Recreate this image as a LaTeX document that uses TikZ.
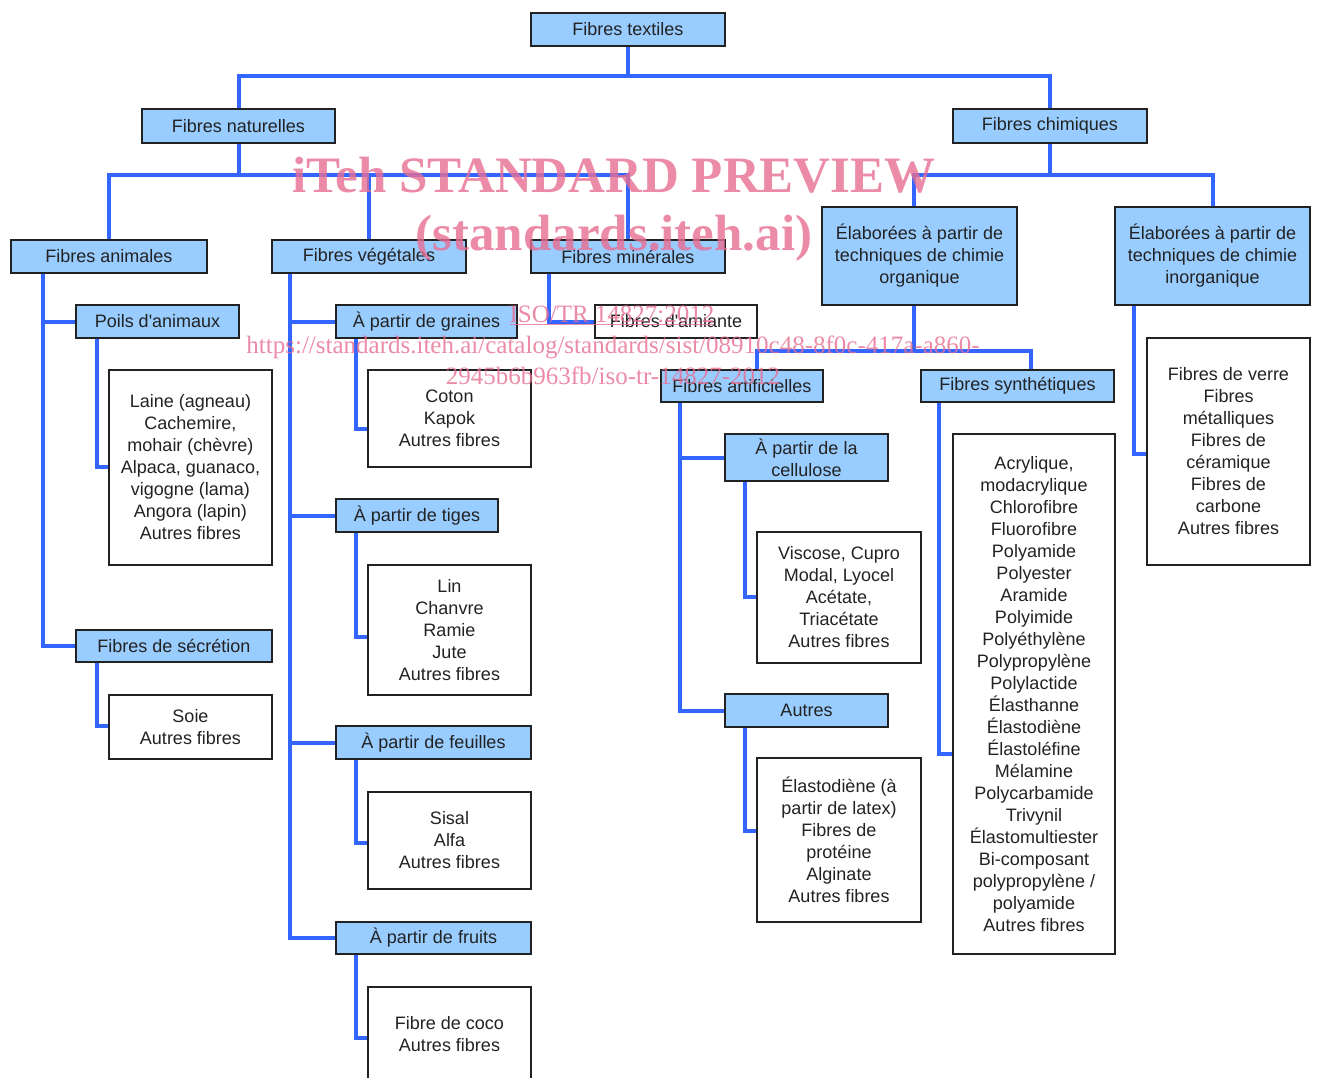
\documentclass[tikz,border=0pt]{standalone}
\usepackage{fontspec}
\setmainfont{Liberation Sans}
\newfontfamily\wmfont{Liberation Serif}
\definecolor{boxfill}{RGB}{153,204,255}
\definecolor{boxline}{RGB}{34,34,34}
\definecolor{connblue}{RGB}{51,102,255}
\definecolor{txt}{RGB}{34,34,34}
\definecolor{wmpink}{RGB}{232,110,145}
\tikzset{
  basebox/.style={draw=boxline, line width=1.5pt, inner sep=0pt, align=center,
    text=txt, font=\fontsize{18}{22}\selectfont},
  bluebox/.style={basebox, fill=boxfill},
  whitebox/.style={basebox, fill=white},
  conn/.style={draw=connblue, line width=4pt},
  wm/.style={text=wmpink, opacity=0.8, anchor=base, inner sep=0pt},
  bw/.style 2 args={minimum width=#1pt, minimum height=#2pt}
}
\begin{document}
\begin{tikzpicture}[x=1pt,y=-1pt]
\useasboundingbox[fill=white] (0,0) rectangle (1317,1077);

% blue boxes
\node[bluebox, bw={194}{33}] (tex) at (628,29.5) {Fibres textiles};
\node[bluebox, bw={193}{34}] (nat) at (238.5,126) {Fibres naturelles};
\node[bluebox, bw={194}{34}] (chim) at (1050,126) {Fibres chimiques};
\node[bluebox, bw={196}{33}] (ani) at (109,256.5) {Fibres animales};
\node[bluebox, bw={194}{33}] (veg) at (369,256.5) {Fibres végétales};
\node[bluebox, bw={194}{33}] (min) at (628,256.5) {Fibres minérales};
\node[bluebox, bw={195}{98}] (org) at (919.5,256) {Élaborées à partir de\\techniques de chimie\\organique};
\node[bluebox, bw={195}{98}] (inorg) at (1212.5,256) {Élaborées à partir de\\techniques de chimie\\inorganique};
\node[bluebox, bw={163}{33}] (poils) at (157.5,321.5) {Poils d\textquotesingle animaux};
\node[bluebox, bw={196}{32}] (sec) at (174,646) {Fibres de sécrétion};
\node[bluebox, bw={181}{33}] (gra) at (426.5,321.5) {À partir de graines};
\node[bluebox, bw={162}{33}] (tig) at (417,515.5) {À partir de tiges};
\node[bluebox, bw={195}{33}] (feu) at (433.5,742.5) {À partir de feuilles};
\node[bluebox, bw={195}{32}] (fru) at (433.5,938) {À partir de fruits};
\node[whitebox, bw={162}{33}] (ami) at (676,321.5) {Fibres d\textquotesingle amiante};
\node[bluebox, bw={162}{32}] (art) at (742,386) {Fibres artificielles};
\node[bluebox, bw={193}{32}] (syn) at (1017.5,386) {Fibres synthétiques};
\node[bluebox, bw={163}{47}] (cel) at (806.5,457.5) {À partir de la\\cellulose};
\node[bluebox, bw={163}{33}] (aut) at (806.5,710.5) {Autres};

% white boxes
\node[whitebox, bw={163}{195}] (laine) at (190.5,467.5) {Laine (agneau)\\Cachemire,\\mohair (chèvre)\\Alpaca, guanaco,\\vigogne (lama)\\Angora (lapin)\\Autres fibres};
\node[whitebox, bw={163}{64}] (soie) at (190.5,727) {Soie\\Autres fibres};
\node[whitebox, bw={163}{97}] (coton) at (449.5,418.5) {Coton\\Kapok\\Autres fibres};
\node[whitebox, bw={163}{130}] (lin) at (449.5,630) {Lin\\Chanvre\\Ramie\\Jute\\Autres fibres};
\node[whitebox, bw={163}{97}] (sisal) at (449.5,840.5) {Sisal\\Alfa\\Autres fibres};
\node[whitebox, bw={163}{94}] (coco) at (449.5,1034) {Fibre de coco\\Autres fibres};
\node[whitebox, bw={164}{131}] (visc) at (839,597.5) {Viscose, Cupro\\Modal, Lyocel\\Acétate,\\Triacétate\\Autres fibres};
\node[whitebox, bw={164}{164}] (elas) at (839,840) {Élastodiène (à\\partir de latex)\\Fibres de\\protéine\\Alginate\\Autres fibres};
\node[whitebox, bw={162}{520}] (acr) at (1034,694) {Acrylique,\\modacrylique\\Chlorofibre\\Fluorofibre\\Polyamide\\Polyester\\Aramide\\Polyimide\\Polyéthylène\\Polypropylène\\Polylactide\\Élasthanne\\Élastodiène\\Élastoléfine\\Mélamine\\Polycarbamide\\Trivynil\\Élastomultiester\\Bi-composant\\polypropylène /\\polyamide\\Autres fibres};
\node[whitebox, bw={163}{227}] (verre) at (1228.5,451.5) {Fibres de verre\\Fibres\\métalliques\\Fibres de\\céramique\\Fibres de\\carbone\\Autres fibres};

% junction coordinates
\coordinate (j0) at (628,76);
\coordinate (j1) at (239,175);
\coordinate (j2) at (914,175);
\coordinate (j3) at (914,351);
\coordinate (xart) at (757,0);
\coordinate (xsyn) at (1031,0);
\coordinate (ea) at (43,0);
\coordinate (ep) at (97,467);
\coordinate (es) at (97,726);
\coordinate (ev) at (290,0);
\coordinate (eg) at (356,429);
\coordinate (et) at (356,637);
\coordinate (ef) at (356,843);
\coordinate (efr) at (356,1038);
\coordinate (em) at (549,0);
\coordinate (ear) at (680,0);
\coordinate (ec) at (745,597);
\coordinate (eau) at (745,831);
\coordinate (esy) at (939,754);
\coordinate (ein) at (1134,454);

% connectors
\draw[conn] (tex.south) -- (tex.south |- j0);
\draw[conn] (nat.north) |- (j0) -| (chim.north);
\draw[conn] (nat.south) -- (nat.south |- j1);
\draw[conn] (ani.north) |- (min.north |- j1) -- (min.north);
\draw[conn] (veg.north) -- (veg.north |- j1);
\draw[conn] (chim.south) -- (chim.south |- j2);
\draw[conn] (org.north -| j2) -- (j2) -| (inorg.north);
\draw[conn] (ani.south -| ea) |- (sec.west);
\draw[conn] (ea |- poils.west) -- (poils.west);
\draw[conn] (poils.south -| ep) |- (laine.west |- ep);
\draw[conn] (sec.south -| es) |- (soie.west |- es);
\draw[conn] (veg.south -| ev) |- (fru.west);
\draw[conn] (ev |- gra.west) -- (gra.west);
\draw[conn] (ev |- tig.west) -- (tig.west);
\draw[conn] (ev |- feu.west) -- (feu.west);
\draw[conn] (gra.south -| eg) |- (coton.west |- eg);
\draw[conn] (tig.south -| et) |- (lin.west |- et);
\draw[conn] (feu.south -| ef) |- (sisal.west |- ef);
\draw[conn] (fru.south -| efr) |- (coco.west |- efr);
\draw[conn] (min.south -| em) |- (ami.west);
\draw[conn] (org.south -| j3) -- (j3);
\draw[conn] (art.north -| xart) |- (j3) -| (syn.north -| xsyn);
\draw[conn] (art.south -| ear) |- (aut.west);
\draw[conn] (ear |- cel.west) -- (cel.west);
\draw[conn] (cel.south -| ec) |- (visc.west |- ec);
\draw[conn] (aut.south -| eau) |- (elas.west |- eau);
\draw[conn] (syn.south -| esy) |- (acr.west |- esy);
\draw[conn] (inorg.south -| ein) |- (verre.west |- ein);

% watermark
\node[wm, font=\wmfont\bfseries\fontsize{51}{51}\selectfont] (wm1) at (614,192) {iTeh STANDARD PREVIEW};
\node[wm, font=\wmfont\bfseries\fontsize{51}{51}\selectfont] (wm2) at (614,250) {(standards.iteh.ai)};
\node[wm, font=\wmfont\fontsize{25}{25}\selectfont] (wm3) at (612,322) {\underline{ISO/TR 14827:2012}};
\node[wm, font=\wmfont\fontsize{25}{25}\selectfont] (wm4) at (613,353) {https://standards.iteh.ai/catalog/standards/sist/08910c48-8f0c-417a-a860-};
\node[wm, font=\wmfont\fontsize{25}{25}\selectfont] (wm5) at (613,384) {2945b6b963fb/iso-tr-14827-2012};
\end{tikzpicture}
\end{document}
